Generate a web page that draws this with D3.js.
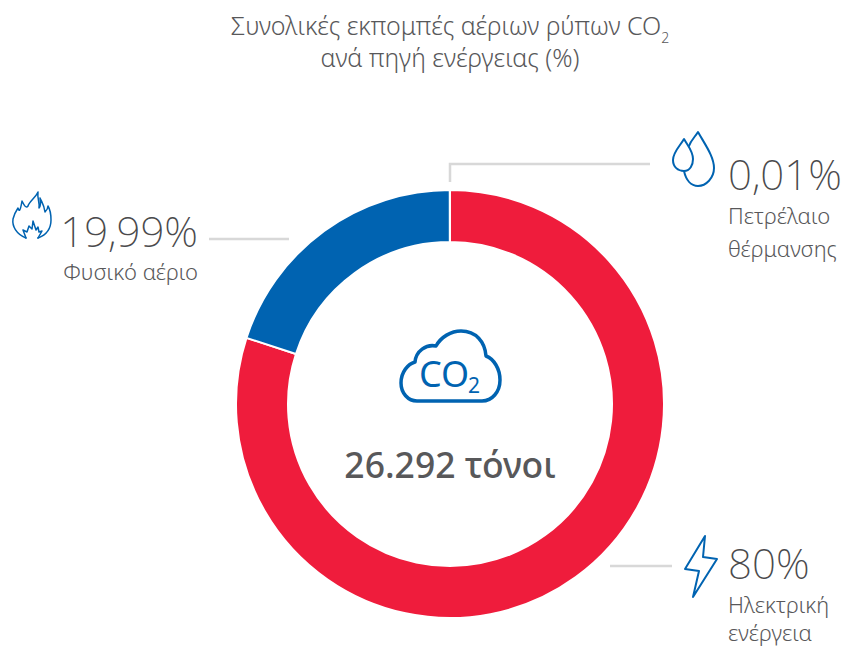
<!DOCTYPE html>
<html>
<head>
<meta charset="utf-8">
<script src="https://cdn.jsdelivr.net/npm/d3@7"></script>
<style>
  html, body { margin: 0; padding: 0; background: #fff; }
  text { font-family: "Noto Sans", sans-serif; fill: #58585a; }
  .pct { font-size: 42px; font-weight: 200; fill: #4a4a4c; }
  .lbl { font-size: 22px; font-weight: 300; }
  .title { font-size: 25px; font-weight: 300; }
  .leader { fill: none; stroke: #d8d8d8; stroke-width: 2.5px; }
  .icon { fill: none; stroke: #0063b1; stroke-width: 2px; stroke-linejoin: round; stroke-linecap: round; }
</style>
</head>
<body>
<div id="root"></div>
<script>
const sources = ["Ηλεκτρική ενέργεια", "Φυσικό αέριο", "Πετρέλαιο θέρμανσης"];
const shares = [80, 19.99, 0.01];
const shareLabels = ["80%", "19,99%", "0,01%"];
const colors = ["#ef1c3c", "#0063b1", "#0063b1"];
const titleLines = ["Συνολικές εκπομπές αέριων ρύπων CO", "ανά πηγή ενέργειας (%)"];
const totalLabel = "26.292 τόνοι";

const width = 850;
const height = 646;

const svg = d3.select("#root")
  .append("svg")
  .attr("width", width)
  .attr("height", height)
  .style("display", "block");

// title
const title = svg.append("g").attr("text-anchor", "middle");
const first = title.append("text").attr("class", "title").attr("x", 450).attr("y", 35);
first.append("tspan").text(titleLines[0]);
first.append("tspan").attr("font-size", 14).attr("dy", 8).text("2");
title.append("text").attr("class", "title").attr("x", 450).attr("y", 67).text(titleLines[1]);

// donut
const pie = d3.pie().sort(null).value(d => d)(shares);
const arc = d3.arc().innerRadius(162).outerRadius(214);

svg.append("g")
    .attr("transform", "translate(450, 404)")
  .selectAll("path")
    .data(pie)
    .join("path")
      .attr("d", arc)
      .style("fill", (d, i) => colors[i])
      .style("stroke", "#fff")
      .style("stroke-width", 2);

// leaders
const leaders = ["M610,566H672", "M209,239H289", "M450,182V164H650"];
svg.append("g").selectAll("path")
  .data(leaders)
  .join("path")
    .attr("class", "leader")
    .attr("d", d => d);

// labels
const labelPos = [
  { x: 728, y: 579, anchor: "start", lines: [["Ηλεκτρική", 34], ["ενέργεια", 62]] },
  { x: 198, y: 247, anchor: "end", lines: [["Φυσικό αέριο", 33]] },
  { x: 728, y: 190, anchor: "start", lines: [["Πετρέλαιο", 34], ["θέρμανσης", 67]] }
];

labelPos.forEach((p, i) => {
  const g = svg.append("g").attr("text-anchor", p.anchor);
  g.append("text").attr("class", "pct").attr("x", p.x).attr("y", p.y).text(shareLabels[i]);
  p.lines.forEach(line => {
    g.append("text").attr("class", "lbl").attr("x", p.x).attr("y", p.y + line[1]).text(line[0]);
  });
});

// centre
svg.append("text")
  .attr("x", 450).attr("y", 478)
  .attr("text-anchor", "middle")
  .style("font-size", "35.5px")
  .style("font-weight", 500)
  .text(totalLabel);

const cloud = svg.append("g");
cloud.append("path")
  .attr("class", "icon")
  .style("stroke-width", 3.5)
  .attr("d", "M417,401 C408,401 401,393 401,383 C401,372 408,364 415,362 C416,351 426,344 436,346 C441,337 451,331 461,331 C476,331 485,342 486,356 C494,359 500,369 500,380 C500,392 492,401 482,401 Z");
cloud.append("text")
  .attr("x", 419).attr("y", 387)
  .style("font-size", "36px")
  .style("fill", "#0063b1")
  .text("CO");
cloud.append("text")
  .attr("x", 468).attr("y", 393)
  .style("font-size", "21px")
  .style("fill", "#0063b1")
  .text("2");

// drops
const drops = svg.append("g");
drops.append("path").attr("class", "icon")
  .attr("d", "M684,171 C690,171 693,165 693,159 C693,151 688,146 684,139 C680,146 673,152 673,160 C673,167 678,171 684,171 Z");
drops.append("path").attr("class", "icon")
  .attr("d", "M689,146 C691,140 695,137 698,132 C706,146 714,157 714,168 C714,178 706,186 698,186 C691,186 686,180 684,171");

// bolt
svg.append("path").attr("class", "icon")
  .attr("d", "M705,536 L685,569 L699,571 L693,597 L717,559 L703,557 Z");

// flame
const flame = svg.append("g");
flame.append("path").attr("class", "icon").style("stroke-width", 1.5)
  .attr("d", "M26,238 C16,234 12,226 13,219 C14,214 16,211 18,208 C19,211 20,213 22,201 C24,205 26,209 28,206 C29,202 36,197 38,192 C37,198 40,203 39,208 C41,206 41,203 40,198 C44,206 44,205 45,212 C47,210 48,208 48,206 C51,211 51,216 51,220 C51,229 46,235 38,238");
flame.append("path").attr("class", "icon").style("stroke-width", 1.5)
  .attr("d", "M26,238 L23,230 L27,232 L29,226 L32,229 L33,221 L36,230 L38,227 L39,232 L42,231 L38,238");
</script>
</body>
</html>
